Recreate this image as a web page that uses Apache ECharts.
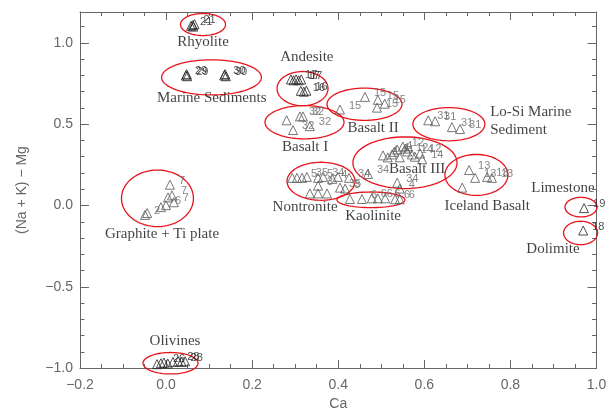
<!DOCTYPE html>
<html><head><meta charset="utf-8">
<script src="https://cdn.jsdelivr.net/npm/echarts@6/dist/echarts.min.js"></script>
<style>html,body{margin:0;padding:0;background:#fff}#c{width:614px;height:416px}</style>
</head><body><div id="c"></div>
<script>
// ---- data: [Ca, (Na+K)-Mg, sample number] ----
const rhyolite = [[0.058,1.105,'21'],[0.062,1.110,''],[0.066,1.115,'21'],[0.063,1.100,'']];
const marine = [[0.046,0.800,'29'],[0.049,0.795,'29'],[0.048,0.808,''],[0.135,0.800,'30'],[0.139,0.795,'30'],[0.137,0.808,'']];
const andesite = [[0.290,0.775,''],[0.296,0.770,''],[0.302,0.776,'17'],[0.308,0.770,'17'],[0.314,0.775,'17'],[0.313,0.705,''],[0.320,0.700,'16'],[0.326,0.706,'16']];
const basalt1 = [[0.280,0.524,''],[0.295,0.464,'32'],[0.311,0.548,'32'],[0.318,0.548,'32'],[0.334,0.488,'32']];
const basalt2 = [[0.404,0.590,'15'],[0.462,0.668,'15'],[0.492,0.650,'15'],[0.508,0.626,'15'],[0.490,0.602,'15']];
const loSi = [[0.609,0.524,'31'],[0.625,0.518,'31'],[0.664,0.482,'31'],[0.683,0.470,'31']];
const basalt3 = [[0.504,0.308,'4'],[0.515,0.296,''],[0.525,0.314,'44'],[0.530,0.330,'4'],[0.537,0.344,'4'],[0.543,0.296,''],[0.550,0.362,'12'],[0.556,0.350,''],[0.560,0.332,'12'],[0.571,0.314,'14'],[0.578,0.300,''],[0.590,0.320,'12'],[0.595,0.284,'14'],[0.469,0.194,'34'],[0.537,0.140,'34'],[0.543,0.104,'4'],[0.425,0.170,'34']];
const nontronite = [[0.293,0.170,''],[0.304,0.170,''],[0.316,0.170,'5'],[0.327,0.176,'35'],[0.353,0.170,'5'],[0.365,0.176,'34'],[0.386,0.164,'4'],[0.399,0.176,''],[0.334,0.074,''],[0.353,0.074,''],[0.374,0.074,''],[0.353,0.122,'3'],[0.404,0.110,'35'],[0.416,0.104,'3']];
const kaolinite = [[0.427,0.040,''],[0.455,0.040,'6'],[0.478,0.044,'6'],[0.492,0.044,'6'],[0.509,0.044,'6'],[0.532,0.038,'6'],[0.543,0.038,'6']];
const iceland = [[0.704,0.218,'13'],[0.718,0.170,'13'],[0.746,0.176,'13'],[0.688,0.110,''],[0.757,0.170,'13']];
const limestone = [[0.971,-0.016,'19']];
const dolimite = [[0.969,-0.154,'18']];
const graphite = [[-0.049,-0.058,'2'],[-0.044,-0.046,''],[0.009,0.128,'7'],[0.0045,0.050,''],[0.0138,0.062,'7'],[0.018,0.020,'7'],[-0.012,-0.010,''],[-0.0002,0.002,'6']];
const olivines = [[-0.021,-0.976,''],[-0.012,-0.970,''],[-0.005,-0.966,'26'],[0.004,-0.972,''],[0.016,-0.962,''],[0.028,-0.958,'28'],[0.036,-0.962,'28'],[0.044,-0.958,'']];

// ---- group outlines: [centre Ca, centre y, half-width, half-height] ----
const ellipses = [
  [0.0858,1.113,0.0523,0.0678],[0.1055,0.788,0.116,0.108],[0.317,0.719,0.0592,0.105],
  [0.3216,0.512,0.0918,0.102],[0.461,0.623,0.0871,0.099],[0.657,0.500,0.0836,0.102],
  [0.555,0.263,0.121,0.159],[0.360,0.149,0.079,0.117],[0.476,0.035,0.079,0.048],
  [0.721,0.188,0.0732,0.126],[0.964,-0.010,0.0372,0.060],[0.963,-0.169,0.0395,0.072],
  [-0.020,0.044,0.0836,0.174],[0.0103,-0.970,0.0639,0.066]
];

// ---- group names and anchor positions ----
const groupNames = ['Rhyolite','Marine Sediments','Andesite','Basalt I','Basalt II','Lo-Si Marine\nSediment','Basalt III','Nontronite','Kaolinite','Iceland Basalt','Limestone','Dolimite','Graphite + Ti plate','Olivines'];
const groupX = [0.0858,0.106,0.327,0.323,0.481,0.753,0.583,0.323,0.481,0.746,0.922,0.899,-0.0095,0.0207];
const groupY = [1.004,0.662,0.914,0.362,0.476,0.518,0.224,-0.010,-0.064,-0.004,0.110,-0.268,-0.178,-0.832];

const xTicks = {min:-0.2, max:1.0, major:0.2, minor:0.05};
const yTicks = {min:-1.0, max:1.19, major:0.5, minor:0.1};

const dark = [rhyolite, marine, andesite, limestone, dolimite, olivines];
const light = [basalt1, basalt2, loSi, basalt3, nontronite, kaolinite, iceland, graphite];

const axisColor = '#666';
function fmt(v, step){
  if (Math.abs(v/step - Math.round(v/step)) > 1e-6) return '';
  return v.toFixed(1).replace('-', '\u2212');
}
function mkX(pos, interval, len, showLine, labels){
  return {type:'value', position:pos, min:xTicks.min, max:xTicks.max, interval:interval,
    axisLine:{show:showLine, onZero:false, lineStyle:{color:axisColor, width:1}},
    axisTick:{show:true, inside:true, length:len, lineStyle:{color:axisColor}},
    axisLabel:{show:labels, margin:10, color:'#666', fontSize:14, fontFamily:'Liberation Sans', formatter:v=>fmt(v, xTicks.major)},
    splitLine:{show:false}};
}
function mkY(pos, interval, len, showLine, labels){
  return {type:'value', position:pos, min:yTicks.min, max:yTicks.max, interval:interval,
    axisLine:{show:showLine, onZero:false, lineStyle:{color:axisColor, width:1}},
    axisTick:{show:true, inside:true, length:len, lineStyle:{color:axisColor}},
    axisLabel:{show:labels, margin:7, color:'#666', fontSize:14, fontFamily:'Liberation Sans', formatter:v=>fmt(v, yTicks.major)},
    splitLine:{show:false}};
}
const xAxes = [mkX('bottom', xTicks.major, 8, true, true), mkX('bottom', xTicks.minor, 4, false, false),
               mkX('top', xTicks.major, 8, true, false), mkX('top', xTicks.minor, 4, false, false)];
xAxes[0].name = 'Ca'; xAxes[0].nameLocation = 'middle'; xAxes[0].nameGap = 25;
xAxes[0].nameTextStyle = {color:'#666', fontSize:14, fontFamily:'Liberation Sans'};
const yAxes = [mkY('left', yTicks.major, 9, true, true), mkY('left', yTicks.minor, 4.5, false, false),
               mkY('right', yTicks.major, 9, true, false), mkY('right', yTicks.minor, 4.5, false, false)];
yAxes[0].name = '(Na + K) \u2212 Mg'; yAxes[0].nameLocation = 'middle'; yAxes[0].nameGap = 51;
yAxes[0].nameTextStyle = {color:'#666', fontSize:14, fontFamily:'Liberation Sans'};

function pointSeries(arr, stroke, textColor){
  return {type:'scatter', xAxisIndex:0, yAxisIndex:0, symbol:'triangle', symbolSize:9,
    data:arr, z:5, silent:true,
    itemStyle:{color:'rgba(0,0,0,0)', borderColor:stroke, borderWidth:1},
    label:{show:true, position:'right', distance:4, offset:[0,-4], formatter:p=>p.data[2],
      color:textColor, fontSize:11, fontFamily:'Liberation Sans'}};
}
const series = [];
series.push({type:'custom', xAxisIndex:0, yAxisIndex:0, data:ellipses, silent:true, z:3,
  renderItem:function(params, api){
    const c = api.coord([api.value(0), api.value(1)]);
    const s = api.size([api.value(2), api.value(3)]);
    const pts = [];
    for (let i = 0; i <= 72; i++){ const t = i/72*Math.PI*2; pts.push([c[0]+s[0]*Math.cos(t), c[1]+s[1]*Math.sin(t)]); }
    return {type:'polygon', shape:{points:pts}, style:{fill:'none', stroke:'#e8141c', lineWidth:1.3}};
  }});
dark.forEach(a => series.push(pointSeries(a, '#222', '#222')));
light.forEach(a => series.push(pointSeries(a, '#555', '#666')));
series.push({type:'scatter', xAxisIndex:0, yAxisIndex:0, symbolSize:0, silent:true, z:6,
  data: groupNames.map((n,i)=>({value:[groupX[i], groupY[i]], name:n,
    label: n.indexOf('\n')>=0 ? {align:'left'} : {}})),
  label:{show:true, position:'inside', formatter:p=>p.name, color:'#111', fontSize:15,
    fontFamily:'Liberation Serif', lineHeight:18}});

const chart = echarts.init(document.getElementById('c'), null, {renderer:'canvas'});
chart.setOption({
  animation:false, backgroundColor:'#fff',
  grid:{left:80, right:17.5, top:12, bottom:39, containLabel:false},
  xAxis:xAxes, yAxis:yAxes, series:series
});
</script></body></html>
